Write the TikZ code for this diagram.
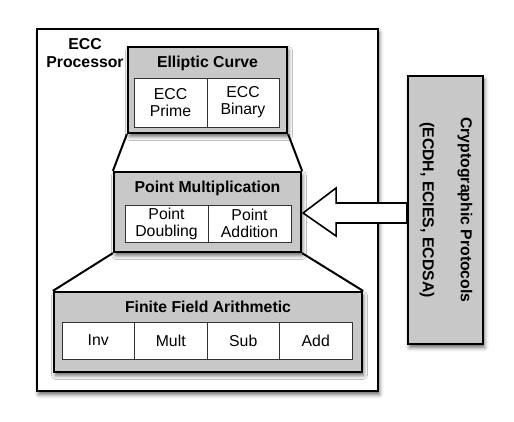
\documentclass[tikz,border=0pt]{standalone}
\usepackage{fontspec}
\setmainfont{Liberation Sans}
\usetikzlibrary{calc,shadows.blur}
\definecolor{boxgray}{RGB}{200,200,200}
\definecolor{cellline}{RGB}{50,50,50}
\tikzset{
  x=1pt, y=-1pt,
  myshadow/.style={blur shadow={shadow xshift=1.5pt, shadow yshift=-3.5pt, shadow blur radius=4pt, shadow opacity=60}},
  outerbox/.style={draw=black, line width=2pt, fill=white, myshadow, inner sep=0pt},
  graybox/.style={draw=black, line width=2.2pt, fill=boxgray, myshadow, inner sep=0pt},
  cell/.style={draw=cellline, line width=0.9pt, fill=white, inner sep=0pt, align=center,
    font=\fontsize{15.8}{17}\selectfont},
  boxtitle/.style={font=\fontsize{15.8}{17}\selectfont\bfseries, inner sep=0pt},
  conn/.style={draw=black, line width=2pt},
  bigarrow/.style={draw=black, line width=1.6pt, fill=white, line join=miter},
}
\begin{document}
\begin{tikzpicture}
\useasboundingbox (0,0) rectangle (514,422);
% outer processor box
\node[outerbox, minimum width=341pt, minimum height=362pt] (proc) at (207.5,210) {};
\node[boxtitle, align=center, font=\fontsize{15.8}{18}\selectfont\bfseries] (proclabel) at (85,53) {ECC\\Processor};
% gray boxes
\node[graybox, minimum width=159pt, minimum height=86pt] (ec) at (207.5,90) {};
\node[graybox, minimum width=187pt, minimum height=80pt] (pm) at (207.5,212) {};
\node[graybox, minimum width=308pt, minimum height=80pt] (ffa) at (208,332) {};
% trapezoid connectors
\draw[conn] (ec.south west) -- (pm.north west);
\draw[conn] (ec.south east) -- (pm.north east);
\draw[conn] (pm.south west) -- (ffa.north west);
\draw[conn] (pm.south east) -- (ffa.north east);
% titles
\node[boxtitle] (ectitle) at (207.5,63) {Elliptic Curve};
\node[boxtitle] (pmtitle) at (207.5,188) {Point Multiplication};
\node[boxtitle] (ffatitle) at (208,307) {Finite Field Arithmetic};
% cells
\node[cell, minimum width=73pt, minimum height=49pt] (ecprime) at (170.5,102.5) {ECC\\Prime};
\node[cell, minimum width=72pt, minimum height=49pt] (ecbinary) at (243,102.5) {ECC\\Binary};
\node[cell, minimum width=83pt, minimum height=37pt] (pdbl) at (166.5,223.5) {Point\\Doubling};
\node[cell, minimum width=83pt, minimum height=37pt] (padd) at (249.5,223.5) {Point\\Addition};
\node[cell, minimum width=72.5pt, minimum height=37pt] (inv) at (98.25,340.5) {Inv};
\node[cell, minimum width=72.5pt, minimum height=37pt] (mult) at (170.75,340.5) {Mult};
\node[cell, minimum width=72.5pt, minimum height=37pt] (sub) at (243.25,340.5) {Sub};
\node[cell, minimum width=72.5pt, minimum height=37pt] (add) at (315.75,340.5) {Add};
% crypto protocols box
\node[graybox, minimum width=75pt, minimum height=268pt] (crypto) at (445.5,210) {};
\node[boxtitle, rotate=-90] (cryptot1) at (465,210) {Cryptographic Protocols};
\node[boxtitle, rotate=-90] (cryptot2) at (427,210) {(ECDH, ECIES, ECDSA)};
% block arrow from crypto box to point multiplication
\coordinate (tip) at ($(pm.east)+(1,1)$);
\coordinate (st) at ($(tip)+(33,-10)$);
\coordinate (sb) at ($(tip)+(33,10)$);
\draw[bigarrow] (tip) -- ($(tip)+(33,-25)$) -- (st) -- (st -| crypto.west) -- (sb -| crypto.west) -- (sb) -- ($(tip)+(33,23)$) -- cycle;
\end{tikzpicture}
\end{document}
